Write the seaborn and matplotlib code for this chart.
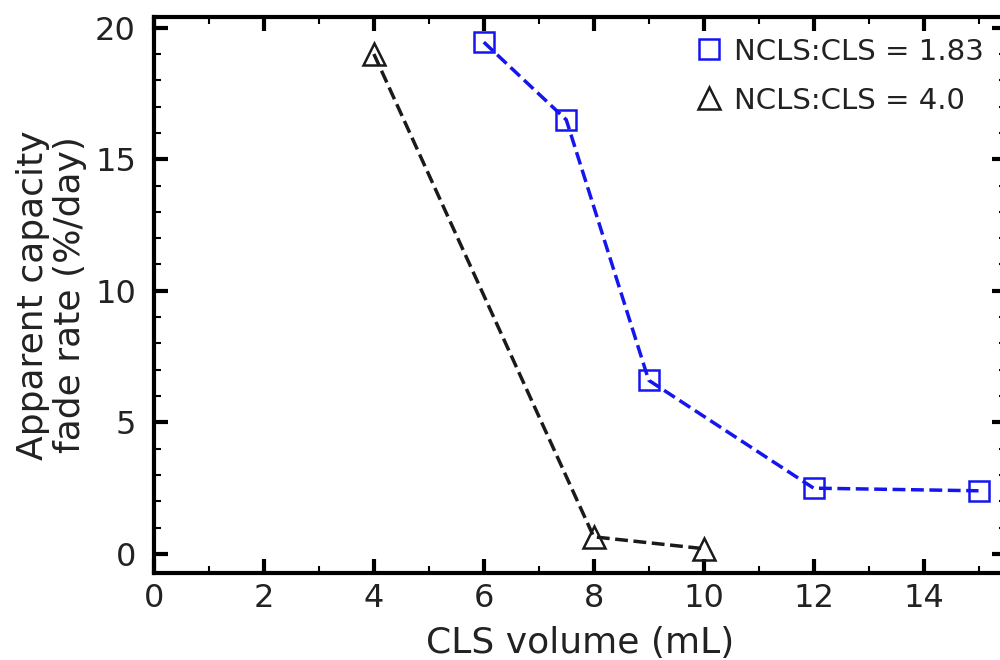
import matplotlib
matplotlib.use("Agg")
import matplotlib.pyplot as plt
from matplotlib.lines import Line2D
from matplotlib.ticker import MultipleLocator
import seaborn as sns
import pandas as pd

# CLS volume (mL) vs apparent capacity fade rate (%/day)
vol_183 = [6, 7.5, 9, 12, 15]
fade_183 = [19.45, 16.5, 6.6, 2.5, 2.4]
vol_40 = [4, 8, 10]
fade_40 = [19.0, 0.65, 0.2]
labels = ["NCLS:CLS = 1.83", "NCLS:CLS = 4.0"]

sns.set_theme(style="ticks")
plt.rcParams["font.family"] = ["DejaVu Sans"]

fig = plt.figure(figsize=(10, 6.6), dpi=100)
ax = fig.add_axes([0.154, 0.132, 0.852, 0.842])

df1 = pd.DataFrame({"x": vol_183, "y": fade_183})
df2 = pd.DataFrame({"x": vol_40, "y": fade_40})

sns.lineplot(data=df1, x="x", y="y", ax=ax, color="#1515ee", linestyle="--",
             linewidth=2.5, marker="s", markersize=15, markerfacecolor="none",
             markeredgecolor="#1515ee", markeredgewidth=1.8, legend=False)
sns.lineplot(data=df2, x="x", y="y", ax=ax, color="#1a1a1a", linestyle="--",
             linewidth=2.5, marker="^", markersize=16, markerfacecolor="none",
             markeredgecolor="#1a1a1a", markeredgewidth=1.8, legend=False)

ax.set_xlim(0, 15.5)
ax.set_ylim(-0.72, 20.4)
ax.xaxis.set_major_locator(MultipleLocator(2))
ax.xaxis.set_minor_locator(MultipleLocator(1))
ax.yaxis.set_major_locator(MultipleLocator(5))
ax.yaxis.set_minor_locator(MultipleLocator(1))
ax.tick_params(which="both", direction="in", top=True, right=True,
               color="black", labelcolor="#222222")
ax.tick_params(which="major", length=10, width=3, labelsize=23)
ax.tick_params(axis="x", which="major", pad=7)
ax.tick_params(axis="y", which="major", pad=13)
ax.tick_params(which="minor", length=5, width=1.5)
for s in ax.spines.values():
    s.set_linewidth(3)
    s.set_color("black")

ax.set_xlabel("CLS volume (mL)", fontsize=26, color="#222222", labelpad=9)
ax.set_ylabel("Apparent capacity\nfade rate (%/day)", fontsize=26,
              color="#222222", labelpad=6, linespacing=1.1)

handles = [
    Line2D([], [], linestyle="none", marker="s", markersize=15,
           markerfacecolor="none", markeredgecolor="#1515ee", markeredgewidth=1.8),
    Line2D([], [], linestyle="none", marker="^", markersize=16,
           markerfacecolor="none", markeredgecolor="#1a1a1a", markeredgewidth=1.8),
]
leg = ax.legend(handles, labels, loc="upper right", bbox_to_anchor=(0.998, 1.0),
                frameon=False, fontsize=21, handlelength=1.0, handletextpad=0.35,
                labelspacing=0.72, borderaxespad=0.3)
for t in leg.get_texts():
    t.set_color("#222222")

fig.savefig("out.png", dpi=100)
